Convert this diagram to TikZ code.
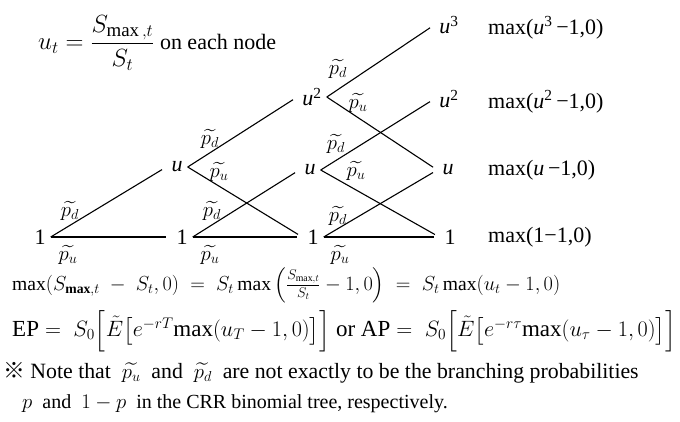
\documentclass[tikz,border=0pt]{standalone}
\usepackage{amsmath,amssymb}
\usepackage{graphicx}
\usepackage{fontspec}
\setmainfont{Liberation Serif}
\newfontfamily\cjk{Noto Sans CJK SC}
\begin{document}
\begin{tikzpicture}[x=1pt,y=-1pt,
  tn/.style={inner xsep=5pt, inner ysep=0pt, font=\fontsize{22}{26}\selectfont},
  pl/.style={inner sep=0pt, font=\fontsize{21}{24}\selectfont},
  br/.style={line width=1.1pt, shorten >=5pt},
  ml/.style={anchor=west, inner sep=0pt, font=\fontsize{22}{26}\selectfont},
  tx/.style={anchor=west, inner sep=0pt, font=\fontsize{20}{24}\selectfont}]
\useasboundingbox (0,0) rectangle (680,421);

% header
\node[tx, font=\fontsize{22}{26}\selectfont] (hd) at (38,43) {{\fontsize{27}{30}\selectfont$u_t=\dfrac{S_{\mathrm{max}\,,t}}{S_t}$}\ on each node};

% tree nodes
\node[tn] (n0) at (40,237) {1};
\node[tn] (a1) at (177,167) {\textit{u}};
\node[tn] (b1) at (182,237) {1};
\node[tn] (a2) at (312,97) {\textit{u}\textsuperscript{2}};
\node[tn] (b2) at (310,170) {\textit{u}};
\node[tn] (c2) at (313,237) {1};
\node[tn] (a3) at (449,25) {\textit{u}\textsuperscript{3}};
\node[tn] (b3) at (449,99) {\textit{u}\textsuperscript{2}};
\node[tn] (c3) at (448,170) {\textit{u}};
\node[tn] (d3) at (450,237) {1};

% branches
\draw[br] (n0.east) -- (a1.west);
\draw[br] (n0.east) -- (b1.west);
\draw[br] (a1.east) -- (a2.west);
\draw[br] (a1.east) -- (c2.west);
\draw[br] (b1.east) -- (b2.west);
\draw[br] (b1.east) -- (c2.west);
\draw[br] (a2.east) -- (a3.west);
\draw[br] (a2.east) -- (c3.west);
\draw[br] (b2.east) -- (b3.west);
\draw[br] (b2.east) -- (d3.west);
\draw[br] (c2.east) -- (c3.west);
\draw[br] (c2.east) -- (d3.west);

% probability labels
\node[pl] (pd0) at (70,211) {$\widetilde{p_d}$};
\node[pl] (pu0) at (68,255) {$\widetilde{p_u}$};
\node[pl] (pd1a) at (210,139) {$\widetilde{p_d}$};
\node[pl] (pu1a) at (219,172) {$\widetilde{p_u}$};
\node[pl] (pd1b) at (212,211) {$\widetilde{p_d}$};
\node[pl] (pu1b) at (210,255) {$\widetilde{p_u}$};
\node[pl] (pd2a) at (338,69) {$\widetilde{p_d}$};
\node[pl] (pu2a) at (358,103) {$\widetilde{p_u}$};
\node[pl] (pd2b) at (336,144) {$\widetilde{p_d}$};
\node[pl] (pu2b) at (356,171) {$\widetilde{p_u}$};
\node[pl] (pd2c) at (338,216) {$\widetilde{p_d}$};
\node[pl] (pu2c) at (340,255) {$\widetilde{p_u}$};

% payoff labels
\node[ml] (m3) at (488,28) {max(\textit{u}\textsuperscript{3}\,−1,0)};
\node[ml] (m2) at (488,102) {max(\textit{u}\textsuperscript{2}\,−1,0)};
\node[ml] (m1) at (488,170) {max(\textit{u}\,−1,0)};
\node[ml] (m0) at (488,237) {max(1−1,0)};

% equations
\node[tx] (e1) at (12,285) {\resizebox{548pt}{!}{$\mathrm{max}(S_{\mathbf{max},t}\;-\;S_t,0)\;=\;S_t\,\mathrm{max}\left(\frac{S_{\mathrm{max},t}}{S_t}-1,0\right)\;=\;S_t\,\mathrm{max}(u_t-1,0)$}};
\node[tx, font=\fontsize{21.5}{26}\selectfont] (e2) at (12,331) {\resizebox{664pt}{!}{$\mathrm{EP}=\;S_0\Bigl[\tilde{E}\bigl[e^{-rT}\mathrm{max}(u_T-1,0)\bigr]\Bigr]$ or $\mathrm{AP}=\;S_0\Bigl[\tilde{E}\bigl[e^{-r\tau}\mathrm{max}(u_\tau-1,0)\bigr]\Bigr]$}};
\node[tx, font=\fontsize{21.8}{24}\selectfont] (e3) at (3,373) {{\cjk ※} Note that \ $\widetilde{p_u}$\ \ and \ $\widetilde{p_d}$\ \ are not exactly to be the branching probabilities};
\node[tx] (e4) at (22,404) {$p$\ \ and \ $1-p$\ \ in the CRR binomial tree, respectively.};
\end{tikzpicture}
\end{document}
